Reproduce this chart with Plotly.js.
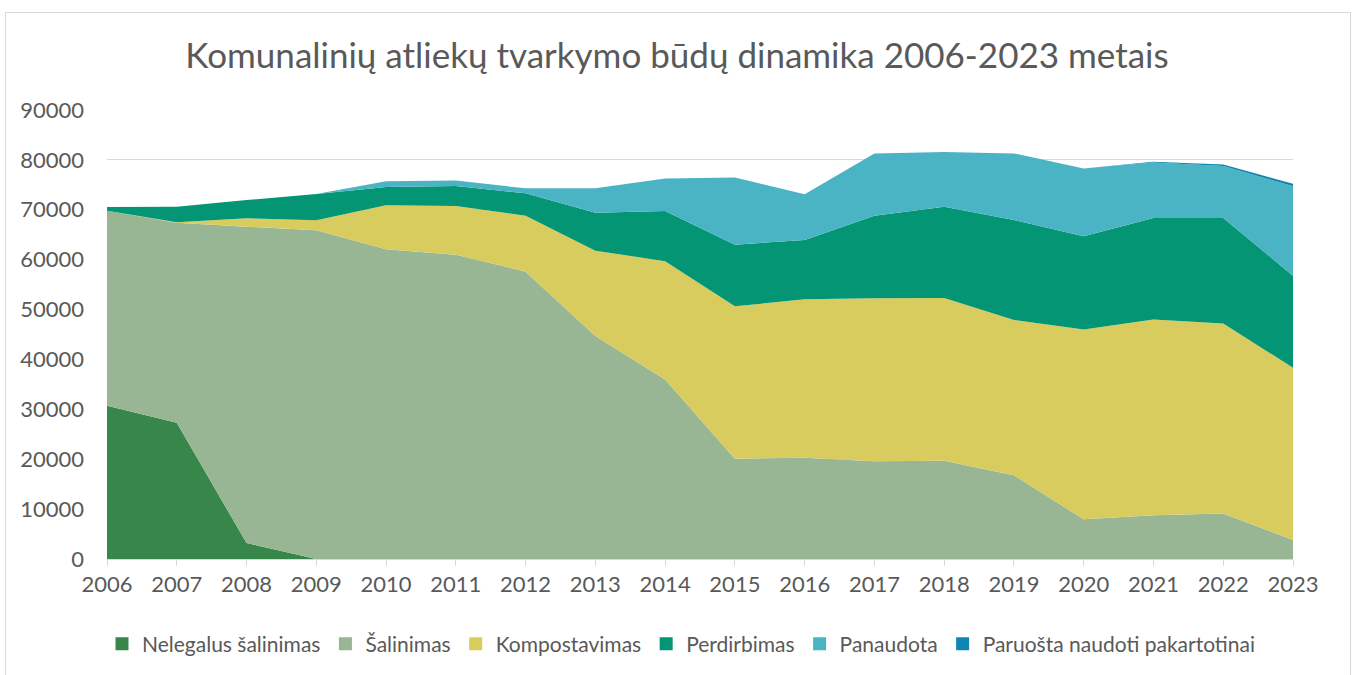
<!DOCTYPE html>
<html>
<head>
<meta charset="utf-8">
<script src="https://cdn.plot.ly/plotly-3.0.1.min.js"></script>
<style>
html,body{margin:0;padding:0;background:#fff;}
#chart{position:absolute;left:0;top:0;width:1354px;height:675px;}
#frame{position:absolute;left:5px;top:12px;width:1344px;height:700px;border:1px solid #d9d9d9;pointer-events:none;}
</style>
</head>
<body>
<div id="chart"></div>
<div id="frame"></div>
<script>
const years = [2006,2007,2008,2009,2010,2011,2012,2013,2014,2015,2016,2017,2018,2019,2020,2021,2022,2023];
const nelegalus = [30700,27300,3200,0,0,0,0,0,0,0,0,0,0,0,0,0,0,0];
const salinimas = [39100,40100,63400,65900,62100,61000,57600,44700,36000,20100,20300,19600,19700,16800,7950,8750,9100,3800];
const kompostavimas = [0,100,1700,2000,8800,9750,11200,17100,23700,30550,31750,32650,32600,31100,38050,39250,38100,34550];
const perdirbimas = [750,3100,3650,5250,3650,4000,4500,7600,10050,12350,11900,16550,18300,20050,18700,20350,21150,18450];
const panaudota = [0,0,0,0,1150,1100,1000,4900,6500,13450,9150,12500,11000,13350,13550,11150,10450,17900];
const paruosta = [0,0,0,0,0,0,0,0,0,0,0,0,0,0,0,150,300,500];

const names = ["Nelegalus šalinimas","Šalinimas","Kompostavimas","Perdirbimas","Panaudota","Paruošta naudoti pakartotinai"];
const colors = ["#38874A","#98B694","#D9CC5E","#039574","#4BB4C4","#0E86B4"];
const series = [nelegalus,salinimas,kompostavimas,perdirbimas,panaudota,paruosta];

const traces = series.map((s,i)=>({
  x: years, y: s, name: names[i], type:'scatter', mode:'lines',
  stackgroup:'one', line:{width:0, color:colors[i]}, fillcolor: colors[i], showlegend:false
}));
// legend entries with square symbols
names.forEach((n,i)=>traces.push({
  x:[null], y:[null], name:n, type:'scatter', mode:'markers',
  marker:{symbol:'square', size:13, color:colors[i]}, showlegend:true
}));

const font = "Lato, 'Open Sans', sans-serif";
const layout = {
  width:1354, height:675,
  margin:{l:107, r:61, t:110, b:116},
  paper_bgcolor:'#fff', plot_bgcolor:'#fff',
  title:{text:"Komunalinių atliekų tvarkymo būdų dinamika 2006-2023 metais",
    font:{family:font, size:35, color:'#595959'}, x:0.5, xanchor:'center', y:1-56/675, yanchor:'middle'},
  xaxis:{range:[2006,2023], tickmode:'linear', tick0:2006, dtick:1, showgrid:false, zeroline:false,
    showline:true, linecolor:'#d9d9d9', linewidth:1, ticks:'outside', ticklen:6, tickcolor:'#d9d9d9',
    tickfont:{family:font, size:22, color:'#595959'}},
  yaxis:{range:[0,90000], dtick:10000, showgrid:true, gridcolor:'#d9d9d9', gridwidth:1, zeroline:false,
    showline:false, ticks:'', tickformat:'d', ticklabelstandoff:22, tickfont:{family:font, size:22, color:'#595959'}},
  showlegend:true,
  legend:{orientation:'h', xref:'container', yref:'container', x:681/1354, xanchor:'center', y:1-644/675, yanchor:'middle',
    traceorder:'normal', font:{family:font, size:21, color:'#595959'}, itemwidth:30},
  hovermode:false
};
Plotly.newPlot('chart', traces, layout, {displayModeBar:false, staticPlot:true});
</script>
</body>
</html>
